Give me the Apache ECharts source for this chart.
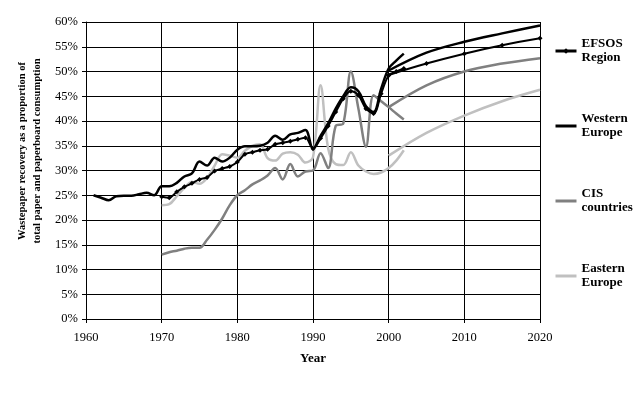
<!DOCTYPE html>
<html><head><meta charset="utf-8">
<script src="https://cdn.jsdelivr.net/npm/echarts@6/dist/echarts.min.js"></script>
<style>html,body{margin:0;padding:0;background:#fff}#c{width:642px;height:394px}</style>
</head><body><div id="c"></div>
<script>
// Historical data
const westYears = [1961,1962,1963,1964,1965,1966,1967,1968,1969,1970,1971,1972,1973,1974,1975,1976,1977,1978,1979,1980,1981,1982,1983,1984,1985,1986,1987,1988,1989,1990,1991,1992,1993,1994,1995,1996,1997,1998,1999,2000,2001,2002];
const westHist = [25.0,24.5,24.0,24.8,24.9,24.9,25.2,25.5,25.0,26.8,26.8,27.5,28.8,29.4,31.8,31.0,32.6,31.8,32.6,34.2,34.9,34.9,35.0,35.6,37.0,36.2,37.3,37.6,38.2,34.4,37.0,39.5,42.5,45.0,46.8,46.0,43.0,41.8,46.5,50.6,52.2,53.6];
const histYears = [1970,1971,1972,1973,1974,1975,1976,1977,1978,1979,1980,1981,1982,1983,1984,1985,1986,1987,1988,1989,1990,1991,1992,1993,1994,1995,1996,1997,1998,1999,2000,2001,2002];
const efsosHist = [24.7,24.5,25.7,26.7,27.4,28.2,28.6,29.9,30.4,30.8,31.7,33.3,33.7,34.1,34.3,35.3,35.6,35.9,36.3,36.6,34.4,36.5,39.0,41.8,44.5,46.0,45.2,42.5,41.5,45.5,49.2,50.0,50.6];
const cisHist = [13.0,13.5,13.8,14.2,14.4,14.4,16.0,18.0,20.3,23.0,25.0,26.0,27.2,28.0,29.0,30.5,28.2,31.3,28.8,29.8,30.0,33.5,30.5,39.0,39.5,50.0,42.5,34.8,45.2,44.0,42.8,41.5,40.3];
const eastHist = [23.0,23.2,24.8,26.5,27.7,27.3,28.5,31.0,33.3,33.0,32.6,34.0,35.0,35.3,32.5,32.0,33.4,33.7,33.2,31.6,32.7,47.2,34.5,31.3,31.1,33.7,31.0,29.8,29.3,29.6,30.5,32.0,34.1];
// Projections
const projYears = [2000,2005,2010,2015,2020];
const westProj = [50.2,53.8,56.0,57.7,59.3];
const efsosProj = [49.3,51.6,53.6,55.3,56.7];
const cisProj = [42.8,47.2,50.0,51.6,52.7];
const eastProj = [33.0,37.6,41.1,44.0,46.3];
// Axis ticks
const xTicks = [1960,1970,1980,1990,2000,2010,2020];
const legendNames = ['EFSOS Region','Western Europe','CIS countries','Eastern Europe'];

const FONT = '"Liberation Serif","Times New Roman",serif';
const pair = (xs, ys) => xs.map((x, i) => [x, ys[i]]);

function lineSeries(name, xs, ys, color, width, marker) {
  return {
    name: name, type: 'line', data: pair(xs, ys), smooth: 0.35,
    symbol: marker ? 'diamond' : 'none', symbolSize: marker ? 5 : 0, showSymbol: !!marker,
    lineStyle: {color: color, width: width}, itemStyle: {color: color},
    emphasis: {disabled: true}, silent: true
  };
}

const chart = echarts.init(document.getElementById('c'));
chart.setOption({
  animation: false,
  backgroundColor: '#fff',
  grid: {left: 86, top: 22, width: 454, height: 297, containLabel: false},
  xAxis: {
    type: 'value', min: xTicks[0], max: xTicks[xTicks.length-1], interval: 10,
    name: 'Year', nameLocation: 'middle', nameGap: 33,
    nameTextStyle: {fontFamily: FONT, fontWeight: 'bold', fontSize: 13, color: '#000'},
    axisLine: {show: true, lineStyle: {color: '#000', width: 1}},
    axisTick: {show: true, length: 4, lineStyle: {color: '#000'}},
    axisLabel: {formatter: v => String(v), fontFamily: FONT, fontSize: 12.5, color: '#000', margin: 12},
    splitLine: {show: true, lineStyle: {color: '#000', width: 1}}
  },
  yAxis: {
    type: 'value', min: 0, max: 60, interval: 5,
    axisLine: {show: true, lineStyle: {color: '#000', width: 1}},
    axisTick: {show: true, length: 4, lineStyle: {color: '#000'}},
    axisLabel: {formatter: '{value}%', fontFamily: FONT, fontSize: 12.5, color: '#000', margin: 8},
    splitLine: {show: true, lineStyle: {color: '#000', width: 1}}
  },
  legend: {
    data: [
      {name: legendNames[0]},
      {name: legendNames[1], itemStyle: {opacity: 0}},
      {name: legendNames[2], itemStyle: {opacity: 0}},
      {name: legendNames[3], itemStyle: {opacity: 0}}
    ],
    orient: 'vertical', left: 554, top: 30, padding: 0, itemGap: 33,
    itemWidth: 21, itemHeight: 7, selectedMode: false,
    lineStyle: {width: 3},
    formatter: n => n.replace(' ', '\n'),
    textStyle: {fontFamily: FONT, fontWeight: 'bold', fontSize: 13, lineHeight: 14, color: '#000', padding: [14,0,0,0]}
  },
  graphic: [{
    type: 'text', x: 30, y: 151, rotation: Math.PI/2, silent: true,
    style: {
      text: 'Wastepaper recovery as a proportion of\ntotal paper and paperboard consumption',
      fontFamily: FONT, fontWeight: 'bold', fontSize: 10.5, lineHeight: 15, fill: '#000',
      align: 'center', verticalAlign: 'middle', textAlign: 'center', textVerticalAlign: 'middle'
    }
  }],
  series: [
    lineSeries('Eastern Europe', histYears, eastHist, '#c0c0c0', 2.5, false),
    lineSeries('Eastern Europe', projYears, eastProj, '#c0c0c0', 2.5, false),
    lineSeries('CIS countries', histYears, cisHist, '#808080', 2.5, false),
    lineSeries('CIS countries', projYears, cisProj, '#808080', 2.5, false),
    lineSeries('EFSOS Region', histYears, efsosHist, '#000', 2, true),
    lineSeries('EFSOS Region', projYears, efsosProj, '#000', 2, true),
    lineSeries('Western Europe', westYears, westHist, '#000', 2.5, false),
    lineSeries('Western Europe', projYears, westProj, '#000', 2.5, false)
  ]
});
</script>
</body></html>
